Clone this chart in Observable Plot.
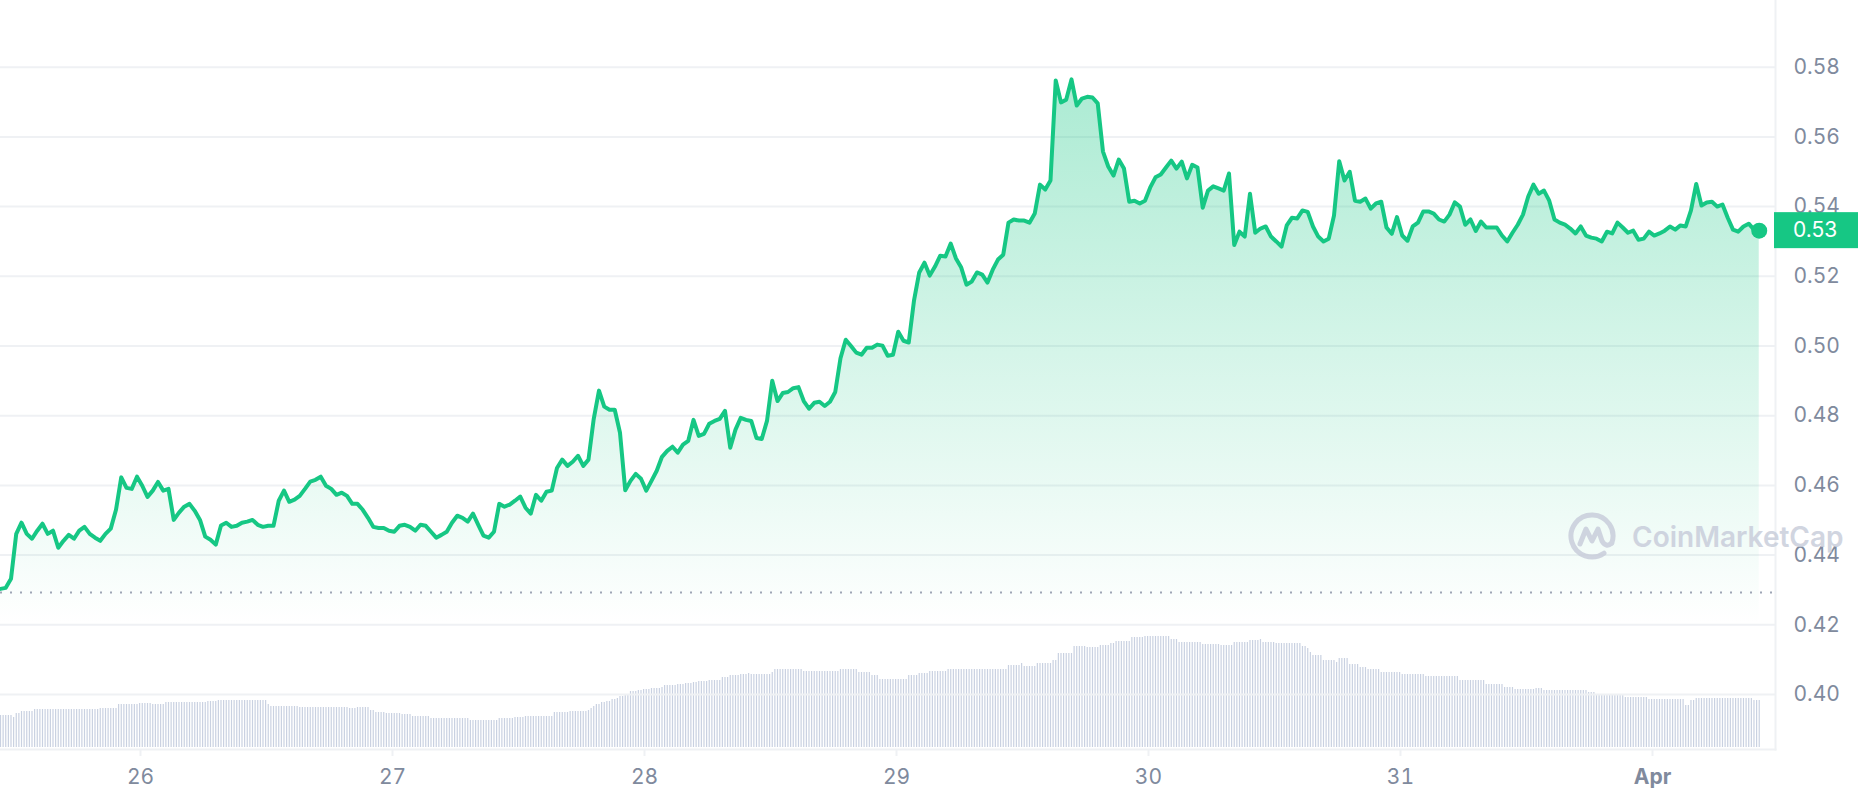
<!DOCTYPE html>
<html>
<head>
<meta charset="utf-8">
<script src="https://cdn.jsdelivr.net/npm/d3@7"></script>
<script src="https://cdn.jsdelivr.net/npm/@observablehq/plot@0.6"></script>
<style>
html, body { margin: 0; padding: 0; background: #ffffff; }
#chart { position: relative; width: 1858px; height: 800px; overflow: hidden; background: #ffffff; }
#chart svg { position: absolute; left: 0; top: 0; }
</style>
</head>
<body>
<div id="chart"></div>
<script>
// ---------- data ----------
const startTime = Date.UTC(2023, 2, 25, 10, 40);   // first sample
const axisEndTime = Date.UTC(2023, 3, 1, 11, 43);  // right edge of the plotting area
const priceStepMinutes = 30;
const volumeStepMinutes = 15;

// price (USD), one value every 30 minutes
const prices = [
  0.4303,0.4306,0.4332,0.4461,0.4493,0.4461,0.4447,0.4470,0.4490,0.4461,
  0.4470,0.4421,0.4441,0.4458,0.4447,0.4470,0.4481,0.4461,0.4450,0.4441,
  0.4461,0.4476,0.4530,0.4623,0.4593,0.4590,0.4625,0.4599,0.4567,0.4585,
  0.4610,0.4585,0.4590,0.4501,0.4522,0.4539,0.4547,0.4527,0.4501,0.4453,
  0.4444,0.4430,0.4485,0.4493,0.4481,0.4484,0.4493,0.4496,0.4501,0.4487,
  0.4481,0.4484,0.4484,0.4556,0.4585,0.4553,0.4559,0.4570,0.4590,0.4611,
  0.4616,0.4625,0.4599,0.4590,0.4573,0.4579,0.4570,0.4547,0.4547,0.4530,
  0.4507,0.4481,0.4478,0.4478,0.4470,0.4467,0.4484,0.4487,0.4481,0.4470,
  0.4487,0.4484,0.4467,0.4450,0.4458,0.4467,0.4493,0.4513,0.4507,0.4496,
  0.4519,0.4487,0.4456,0.4450,0.4467,0.4547,0.4539,0.4545,0.4556,0.4568,
  0.4536,0.4519,0.4573,0.4556,0.4582,0.4585,0.4650,0.4674,0.4656,0.4668,
  0.4685,0.4656,0.4674,0.4791,0.4872,0.4826,0.4817,0.4817,0.4751,0.4586,
  0.4613,0.4633,0.4619,0.4585,0.4613,0.4642,0.4682,0.4699,0.4711,0.4694,
  0.4717,0.4728,0.4788,0.4742,0.4748,0.4777,0.4785,0.4791,0.4814,0.4708,
  0.4760,0.4794,0.4788,0.4785,0.4736,0.4733,0.4785,0.4900,0.4842,0.4865,
  0.4868,0.4879,0.4882,0.4842,0.4820,0.4837,0.4840,0.4828,0.4840,0.4868,
  0.4965,0.5018,0.5000,0.4981,0.4975,0.4995,0.4995,0.5004,0.5001,0.4972,
  0.4975,0.5041,0.5015,0.5010,0.5130,0.5211,0.5239,0.5202,0.5228,0.5259,
  0.5257,0.5294,0.5251,0.5225,0.5176,0.5185,0.5211,0.5205,0.5182,0.5219,
  0.5248,0.5262,0.5354,0.5363,0.5360,0.5360,0.5354,0.5380,0.5463,0.5449,
  0.5475,0.5762,0.5699,0.5707,0.5765,0.5690,0.5710,0.5715,0.5713,0.5696,
  0.5558,0.5515,0.5489,0.5535,0.5509,0.5414,0.5417,0.5409,0.5417,0.5455,
  0.5484,0.5492,0.5512,0.5532,0.5509,0.5529,0.5481,0.5520,0.5512,0.5397,
  0.5446,0.5458,0.5452,0.5446,0.5495,0.5290,0.5328,0.5314,0.5437,0.5325,
  0.5337,0.5343,0.5314,0.5300,0.5285,0.5346,0.5368,0.5366,0.5389,0.5385,
  0.5343,0.5314,0.5300,0.5308,0.5374,0.5530,0.5475,0.5500,0.5417,0.5414,
  0.5423,0.5394,0.5409,0.5414,0.5340,0.5322,0.5370,0.5317,0.5302,0.5343,
  0.5354,0.5386,0.5386,0.5380,0.5363,0.5357,0.5377,0.5412,0.5400,0.5348,
  0.5363,0.5330,0.5357,0.5340,0.5340,0.5340,0.5317,0.5300,0.5325,0.5348,
  0.5377,0.5429,0.5463,0.5437,0.5446,0.5417,0.5363,0.5354,0.5348,0.5337,
  0.5323,0.5343,0.5317,0.5311,0.5308,0.5300,0.5328,0.5323,0.5354,0.5340,
  0.5325,0.5331,0.5305,0.5308,0.5328,0.5317,0.5323,0.5331,0.5343,0.5334,
  0.5346,0.5343,0.5389,0.5465,0.5403,0.5412,0.5414,0.5400,0.5406,0.5368,
  0.5334,0.5328,0.5343,0.5351,0.5334,0.5331
];

// 24h volume (million USD), one bar every 15 minutes
const volumes = [
  1600,1600,1600,1600,1600,
  1500,
  1700,1700,
  1800,1800,1800,1800,1800,
  1900,1900,1900,1900,1900,1900,1900,1900,1900,1900,1900,1900,1900,1900,1900,1900,1900,1900,1900,1900,1900,1900,1900,1900,1900,
  1950,1950,1950,1950,1950,1950,1950,
  2150,2150,2150,2150,2150,2150,2150,2150,
  2200,2200,2200,2200,2200,
  2150,2150,2150,2150,2150,
  2250,2250,2250,2250,2250,2250,2250,2250,2250,2250,2250,2250,2250,2250,2250,2250,
  2300,2300,2300,2300,
  2350,2350,2350,2350,2350,2350,2350,2350,2350,2350,2350,2350,2350,2350,2350,2350,2350,2350,2350,
  2150,
  2050,2050,2050,2050,2050,2050,2050,2050,2050,2050,2050,
  2000,2000,2000,2000,2000,2000,2000,2000,2000,2000,2000,2000,2000,2000,2000,2000,2000,2000,2000,
  1950,1950,1950,
  2000,2000,2000,2000,2000,
  1850,1850,
  1750,1750,1750,1750,
  1700,1700,1700,1700,1700,1700,
  1650,1650,1650,1650,
  1550,1550,1550,1550,1550,1550,1550,
  1450,1450,1450,1450,1450,1450,1450,1450,1450,1450,1450,1450,1450,1450,1450,
  1350,1350,1350,1350,1350,1350,1350,1350,1350,1350,1350,
  1450,1450,1450,1450,1450,1450,
  1500,1500,1500,1500,
  1550,1550,1550,1550,1550,1550,1550,1550,1550,1550,1550,
  1750,1750,1750,1750,1750,1750,
  1800,1800,1800,1800,1800,1800,1800,
  1850,1950,2050,2150,2150,2250,2250,2300,2300,2400,2400,2450,2550,2550,2650,2650,
  2800,2800,2800,2850,2850,2900,2900,2900,2950,2950,2950,2950,3000,
  3100,3100,3100,3100,3100,3150,3150,3150,3200,3200,3200,3250,3250,
  3300,3300,3300,3300,3350,3350,3350,3350,3350,3500,3500,3500,3600,3600,3600,3600,
  3650,3650,3650,3700,3650,3650,3650,3650,3650,3650,3650,3650,3750,
  3900,3900,3900,3900,3900,3900,3900,3900,3900,3900,3900,
  3800,3800,3800,3800,3800,3800,3800,3800,3800,3800,3800,3800,3800,3800,
  3900,3900,3900,3900,3900,3900,3900,
  3750,3750,3750,3750,3750,
  3600,3600,3600,
  3400,3400,3400,3400,3400,3400,3400,3400,3400,3400,3400,
  3600,3600,3600,3600,
  3700,3700,3700,3700,
  3800,3800,3800,3800,3800,3800,3800,
  3900,3900,3900,3900,3900,3900,3900,3900,3900,3900,3900,3900,3900,3900,3900,3900,3900,3900,3900,3900,3900,3900,3900,
  4100,4100,4100,4100,4100,
  4200,
  4050,4050,4050,4050,4050,
  4200,4200,4200,4200,4200,4200,
  4350,4350,
  4700,4700,4700,4700,4700,4700,
  5050,5050,5050,5050,5050,
  5000,5000,5000,5000,5000,
  5100,5100,5100,5100,
  5200,5200,
  5300,5300,5300,5300,5300,5300,
  5500,5500,5500,5500,5500,
  5550,5550,5550,5550,5550,5550,5550,5550,5550,5550,
  5400,5400,5400,
  5250,5250,5250,5250,5250,5250,5250,5250,5250,
  5150,5150,5150,5150,5150,5150,5150,
  5100,5100,5100,5100,5100,
  5250,5250,5250,5250,5250,5250,
  5350,5350,5350,5350,
  5400,
  5250,5250,5250,5250,5250,
  5200,5200,5200,5200,5200,5200,5200,5200,5200,5200,
  5050,5050,
  4950,
  4750,
  4600,4600,4600,4600,
  4350,4350,4350,4350,4350,
  4250,
  4450,4450,4450,4450,
  4150,4150,4150,4150,
  4000,4000,4000,
  3900,3900,3900,3900,3900,
  3750,3750,3750,3750,3750,3750,3750,3750,
  3650,3650,3650,3650,3650,3650,3650,3650,3650,
  3550,3550,3550,3550,3550,3550,3550,3550,3550,3550,3550,3550,3550,
  3350,3350,3350,3350,3350,3350,3350,3350,3350,3350,
  3150,3150,3150,3150,3150,3150,3150,
  3000,3000,3000,3000,
  2900,2900,2900,2900,2900,2900,2900,2900,
  2950,2950,2950,
  2850,2850,2850,2850,2850,2850,2850,2850,2850,2850,2850,2850,2850,2850,2850,2850,2850,
  2750,2750,2750,
  2650,2650,2650,2650,2650,2650,2650,2650,2650,2650,2650,
  2500,2500,2500,2500,2500,2500,2500,2500,2500,
  2400,2400,2400,2400,2400,2400,2400,2400,2400,2400,2400,2400,2400,2400,
  2100,2100,
  2350,2350,
  2450,2450,2450,2450,2450,2450,2450,2450,2450,2450,2450,2450,2450,2450,2450,2450,2450,2450,2450,2450,2450,2450,
  2350,2350,2350
];

const yTicks = [0.40, 0.42, 0.44, 0.46, 0.48, 0.50, 0.52, 0.54, 0.56, 0.58];
const dayTicks = [
  Date.UTC(2023, 2, 26), Date.UTC(2023, 2, 27), Date.UTC(2023, 2, 28),
  Date.UTC(2023, 2, 29), Date.UTC(2023, 2, 30), Date.UTC(2023, 2, 31),
  Date.UTC(2023, 3, 1)
];
const dayLabels = ["26", "27", "28", "29", "30", "31", "Apr"];
const openPrice = 0.4293;   // dotted reference line
const areaBase = 0.42;      // bottom of the shaded area
const volumeMax = 5650;

// ---------- build ----------
const green = "#16c784";
const labelColor = "#808a9d";
const gridColor = "#eff1f4";

const priceData = prices.map((p, i) => ({t: new Date(startTime + i * priceStepMinutes * 60000), p}));
const volumeData = volumes.map((v, i) => ({t: new Date(startTime + i * volumeStepMinutes * 60000), v}));
const lastPoint = priceData[priceData.length - 1];
const labelOf = new Map(dayTicks.map((t, i) => [t, dayLabels[i]]));

const W = 1858, H = 800;
const common = {
  width: W, height: H,
  marginLeft: 0, marginRight: 83, marginTop: 0, marginBottom: 51,
  style: {background: "transparent", fontFamily: "Inter, 'Noto Sans', sans-serif", fontSize: "21px", color: labelColor, overflow: "visible"}
};
const xScale = {type: "utc", domain: [new Date(startTime), new Date(axisEndTime)], label: null};

const volumePlot = Plot.plot({
  ...common,
  x: {...xScale, axis: null},
  y: {domain: [0, volumeMax], range: [747, 634], axis: null, label: null},
  marks: [
    Plot.ruleX(volumeData, {x: "t", y1: 0, y2: "v", stroke: "#c9d1e1", strokeWidth: 1.2})
  ]
});

const defsMark = () => {
  const ns = "http://www.w3.org/2000/svg";
  const defs = document.createElementNS(ns, "defs");
  defs.innerHTML = `<linearGradient id="priceFill" x1="0" y1="0" x2="0" y2="1">
    <stop offset="0" stop-color="${green}" stop-opacity="0.36"/>
    <stop offset="1" stop-color="${green}" stop-opacity="0"/>
  </linearGradient>`;
  return defs;
};

const dayTickDates = dayTicks.map(t => new Date(t));

const pricePlot = Plot.plot({
  ...common,
  x: xScale,
  y: {domain: [0.40, 0.58], range: [694, 66.7], label: null},
  marks: [
    defsMark,
    Plot.gridY(yTicks, {stroke: gridColor, strokeOpacity: 1, strokeWidth: 2}),
    Plot.frame({anchor: "bottom", stroke: gridColor, strokeWidth: 2}),
    Plot.frame({anchor: "right", stroke: gridColor, strokeWidth: 2}),
    Plot.areaY(priceData, {x: "t", y1: d => areaBase, y2: "p", fill: "url(#priceFill)"}),
    Plot.ruleY([openPrice], {stroke: "#9ea5b5", strokeWidth: 2, strokeDasharray: "2 8"}),
    Plot.lineY(priceData, {x: "t", y: "p", stroke: green, strokeWidth: 4, strokeLinejoin: "round", strokeLinecap: "round"}),
    Plot.dot([lastPoint], {x: "t", y: "p", r: 8, fill: green, stroke: "none"}),
    Plot.axisY(yTicks, {anchor: "right", label: null, tickSize: 0, tickPadding: 18, tickFormat: d3.format(".2f"), fill: labelColor}),
    Plot.axisX(dayTickDates.slice(0, 6), {label: null, tickSize: 7, tickPadding: 13, stroke: gridColor, strokeWidth: 2, strokeOpacity: 1, fill: labelColor, tickFormat: d => labelOf.get(+d)}),
    Plot.axisX(dayTickDates.slice(6), {label: null, tickSize: 7, tickPadding: 13, stroke: gridColor, strokeWidth: 2, strokeOpacity: 1, fill: labelColor, fontWeight: 700, tickFormat: d => labelOf.get(+d)})
  ]
});

const chart = document.getElementById("chart");
chart.appendChild(volumePlot);
chart.appendChild(pricePlot);

// make sure "Apr" is bold
d3.select(pricePlot).selectAll("text").filter(function() { return this.textContent === "Apr"; })
  .attr("font-weight", 700);

// watermark
const svg = d3.select(pricePlot);
const wm = svg.append("g").attr("opacity", 0.85);
const logo = wm.append("g").attr("transform", "translate(1592,536)")
  .attr("fill", "none").attr("stroke", "#c9cedb").attr("stroke-width", 5)
  .attr("stroke-linecap", "round").attr("stroke-linejoin", "round");
logo.append("path").attr("d", "M 12,17.2 A 21 21 0 1 1 19.7,7.2");
logo.append("path").attr("d", "M -12,8 L -6,-7 L 0,5 L 6,-7 L 10,5 Q 14,12 19.7,7.2");
wm.append("text").attr("x", 1632).attr("y", 547).attr("text-anchor", "start")
  .attr("font-family", "Inter, sans-serif").attr("font-size", 28).attr("font-weight", 600)
  .attr("fill", "#c9cedb").text("CoinMarketCap");

// current price tag
const ySc = pricePlot.scale("y");
const yLast = ySc.apply(lastPoint.p);
svg.append("rect").attr("x", 1774).attr("y", yLast - 18).attr("width", 84).attr("height", 36).attr("fill", green);
svg.append("text").attr("x", 1793).attr("y", yLast).attr("dy", "0.35em").attr("text-anchor", "start")
  .attr("font-family", "Inter, sans-serif").attr("font-size", 21).attr("fill", "#ffffff")
  .text(d3.format(".2f")(lastPoint.p));
</script>
</body>
</html>
